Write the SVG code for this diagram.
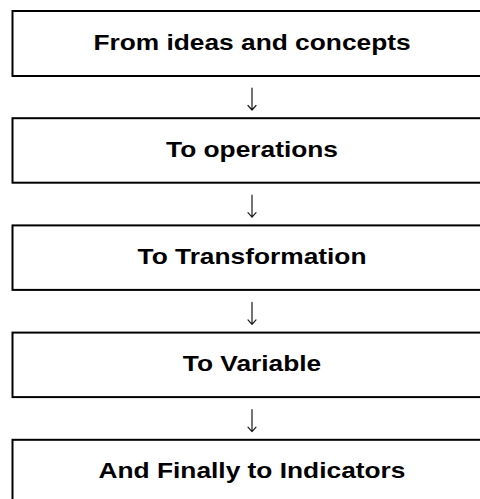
<svg xmlns="http://www.w3.org/2000/svg" width="480" height="499" viewBox="0 0 480 499">
  <style>
    .box { fill: #ffffff; stroke: #000000; stroke-width: 2; }
    .label { font-family: "Liberation Sans", Arial, Helvetica, sans-serif; font-weight: bold; font-size: 22.5px; fill: #000000; text-anchor: middle; }
    .arrow { fill: none; stroke: #1a1a1a; stroke-width: 1.2; stroke-linecap: round; stroke-linejoin: round; }
  </style>
  <rect width="480" height="499" fill="#ffffff"/>

  <g id="connectors">
    <g id="arrow-1"><path class="arrow" d="M252 88 V110 M248 105.5 L252 110 L256 105.5"/></g>
    <g id="arrow-2"><path class="arrow" d="M252 195.2 V217.2 M248 212.7 L252 217.2 L256 212.7"/></g>
    <g id="arrow-3"><path class="arrow" d="M252 302.4 V324.4 M248 319.9 L252 324.4 L256 319.9"/></g>
    <g id="arrow-4"><path class="arrow" d="M252 409.6 V431.6 M248 427.1 L252 431.6 L256 427.1"/></g>
  </g>

  <g id="node-ideas">
    <rect class="box" x="12.5" y="11" width="480" height="65"/>
    <text class="label" transform="translate(252 49.5) scale(1.17 1)">From ideas and concepts</text>
  </g>
  <g id="node-operations">
    <rect class="box" x="12.5" y="118.2" width="480" height="64.5"/>
    <text class="label" transform="translate(252 156.7) scale(1.17 1)">To operations</text>
  </g>
  <g id="node-transformation">
    <rect class="box" x="12.5" y="225.4" width="480" height="64.5"/>
    <text class="label" transform="translate(252 263.9) scale(1.17 1)">To Transformation</text>
  </g>
  <g id="node-variable">
    <rect class="box" x="12.5" y="332.6" width="480" height="64.5"/>
    <text class="label" transform="translate(252 371.1) scale(1.17 1)">To Variable</text>
  </g>
  <g id="node-indicators">
    <rect class="box" x="12.5" y="439.8" width="480" height="65"/>
    <text class="label" transform="translate(252 478.3) scale(1.17 1)">And Finally to Indicators</text>
  </g>
</svg>
